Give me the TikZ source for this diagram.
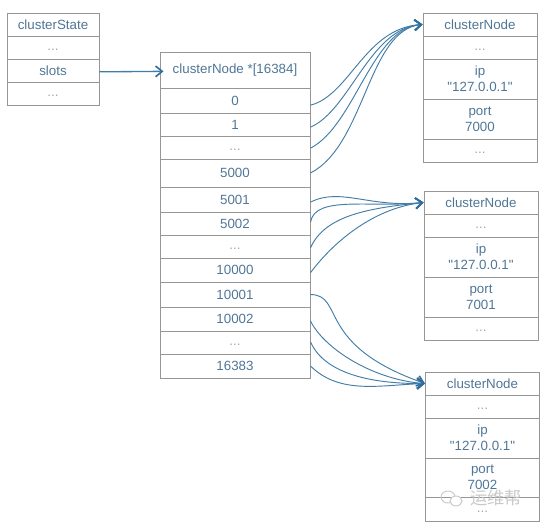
\documentclass[tikz,border=0pt]{standalone}
\usepackage{fontspec}
\setmainfont{Liberation Sans}[Ligatures=TeXOff]
\newfontfamily\cjkfont{Noto Sans CJK SC}
\usetikzlibrary{arrows.meta}
\definecolor{boxgray}{HTML}{969696}
\definecolor{textblue}{HTML}{4F7696}
\definecolor{dotgray}{HTML}{A6A6A6}
\definecolor{linkblue}{HTML}{417DA6}
\definecolor{tipblue}{HTML}{2F6E9C}
\definecolor{markgray}{HTML}{C9C9C9}
\tikzset{
  cell/.style = {rectangle, draw=boxgray, line width=0.75pt, inner sep=0pt, align=center,
    text=textblue, font=\fontsize{10}{12}\selectfont, minimum height=#1*0.75pt},
  cs/.style = {cell=#1, minimum width=69pt},
  arr/.style = {cell=#1, minimum width=112.5pt},
  cn/.style = {cell=#1, minimum width=85.5pt},
  dots/.style = {text=dotgray, text height=7pt, text depth=2pt},
  link/.style = {draw=linkblue, line width=0.7pt, -{Straight Barb[length=5pt,width=8pt,line width=1.2pt,tipblue]}}
}

\begin{document}
\begin{tikzpicture}[x=0.75pt, y=-0.75pt]
  \useasboundingbox (0,0) rectangle (547,529);

  % clusterState
  \node (s0) [cs=23] at (53,24.5) {clusterState};
  \node (s1) [cs=23, dots] at (53,47.5) {...};
  \node (s2) [cs=23] at (53,70.5) {slots};
  \node (s3) [cs=23, dots] at (53,93.5) {...};

  % slots array
  \node (h) [arr=36] at (235,70) {clusterNode *[16384]};
  \node (a0) [arr=25] at (235,100.5) {0};
  \node (a1) [arr=23] at (235,124.5) {1};
  \node (a2) [arr=23, dots] at (235,147.5) {...};
  \node (a3) [arr=28] at (235,173) {5000};
  \node (a4) [arr=25] at (235,199.5) {5001};
  \node (a5) [arr=23] at (235,223.5) {5002};
  \node (a6) [arr=23, dots] at (235,246.5) {...};
  \node (a7) [arr=24] at (235,270) {10000};
  \node (a8) [arr=25] at (235,294.5) {10001};
  \node (a9) [arr=24] at (235,319) {10002};
  \node (a10) [arr=23, dots] at (235,342.5) {...};
  \node (a11) [arr=24] at (235,366) {16383};

  % first clusterNode
  \node (n0) [cn=23] at (480,24.5) {clusterNode};
  \node (n1) [cn=23, dots] at (480,47.5) {...};
  \node (n2) [cn=40] at (480,79) {ip\\"127.0.0.1"};
  \node (n3) [cn=40] at (480,119) {port\\7000};
  \node (n4) [cn=23, dots] at (480,150.5) {...};

  % second clusterNode
  \node (m0) [cn=23] at (481,202.5) {clusterNode};
  \node (m1) [cn=23, dots] at (481,225.5) {...};
  \node (m2) [cn=40] at (481,257) {ip\\"127.0.0.1"};
  \node (m3) [cn=40] at (481,297) {port\\7001};
  \node (m4) [cn=23, dots] at (481,328.5) {...};

  % third clusterNode
  \node (k0) [cn=23] at (482.5,383.5) {clusterNode};
  \node (k1) [cn=23, dots] at (482.5,406.5) {...};
  \node (k2) [cn=40] at (482.5,438) {ip\\"127.0.0.1"};
  \node (k3) [cn=39] at (482.5,477.5) {port\\7002};
  \node (k4) [cn=24, dots] at (482.5,509) {...};

  \draw [link, line width=1pt] ([yshift=-1pt]s2.east) -- ([xshift=3pt,yshift=-1pt]h.west);

  % slots 0..5000
  \draw [link] ([yshift=-3.5pt]a0.east) .. controls (350,95) and (365,28) .. (n0.west);
  \draw [link] ([yshift=-2pt]a1.east) .. controls (350,110) and (370,28) .. (n0.west);
  \draw [link] ([yshift=-0.5pt]a2.east) .. controls (355,125) and (372,28) .. (n0.west);
  \draw [link] (a3.east) .. controls (365,145) and (368,30) .. (n0.west);

  % slots 5001..10000
  \draw [link] ([yshift=-2pt]a4.east) .. controls (340,187) and (370,208) .. (m0.west);
  \draw [link] ([yshift=1pt]a5.east) .. controls (315,195) and (370,208) .. (m0.west);
  \draw [link] ([yshift=-1pt]a6.east) .. controls (325,215) and (370,208) .. (m0.west);
  \draw [link] ([yshift=-2pt]a7.east) .. controls (335,240) and (375,208) .. (m0.west);

  % slots 10001..16383
  \draw [link] (a8.east) .. controls (345,295) and (315,345) .. (k0.west);
  \draw [link] ([yshift=-1.5pt]a9.east) .. controls (325,350) and (375,380) .. (k0.west);
  \draw [link] ([yshift=0.5pt]a10.east) .. controls (325,375) and (375,384) .. (k0.west);
  \draw [link] (a11.east) .. controls (340,395) and (380,385) .. (k0.west);

  % watermark
  \draw [markgray, line width=0.7pt] (448,497) ellipse (7 and 6);
  \draw [markgray, line width=0.7pt, fill=white] (456,501) ellipse (6 and 5);
  \node (wm) [text=markgray, inner sep=0pt, font=\cjkfont\fontsize{13}{13}\selectfont] at (496,498) {运维帮};
\end{tikzpicture}
\end{document}
